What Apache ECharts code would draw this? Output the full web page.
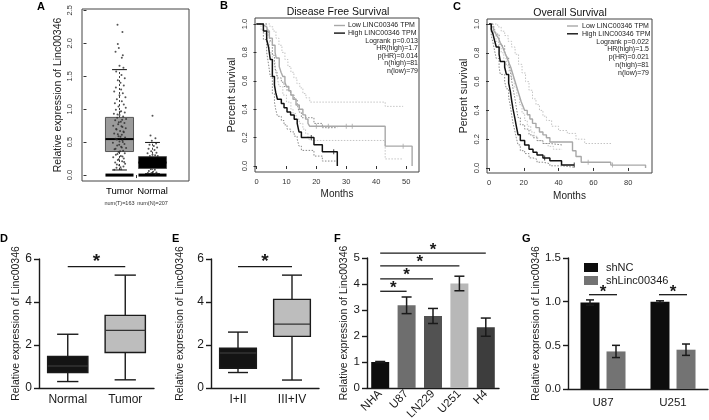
<!DOCTYPE html>
<html><head><meta charset="utf-8">
<script src="https://cdn.jsdelivr.net/npm/echarts@6/dist/echarts.min.js"></script>
<style>html,body{margin:0;padding:0;background:#fff}#c{width:709px;height:420px}</style>
</head><body><div id="c"></div>
<script>
// ================= DATA =================
// Panel A (GEPIA boxplot)
const aCategories = ['Tumor', 'Normal'];
const aCounts = ['num(T)=163', 'num(N)=207'];
const aYTicks = [0, 0.5, 1, 1.5, 2, 2.5];
// [low whisker, q1, median, q3, high whisker]
const aBoxTumor = [0.077, 0.357, 0.546, 0.875, 1.60];
const aBoxNormal = [0.02, 0.10, 0.19, 0.28, 0.495];
const aZeroLevel = 0;
// [jitter offset, value]
const aTumorPoints = [[-0.06,2.28],[0.09,2.17],[-0.05,1.99],[-0.02,1.93],[-0.12,1.87],[0.10,1.82],[0.07,1.78],[0.0,1.66],[0.12,1.63],[-0.10,1.57],[0.06,1.52],[0.16,1.47],[-0.05,1.44],[0.03,1.40],[0.13,1.36],[-0.11,1.33],[0.05,1.30],[-0.16,1.27],[0.10,1.24],[0.0,1.21],[0.18,1.18],[-0.08,1.15],[0.07,1.12],[-0.14,1.09],[0.13,1.07],[-0.03,1.04],[0.19,1.02],[-0.11,0.99],[0.05,0.97],[0.16,0.95],[-0.17,0.93],[0.0,0.91],[0.11,0.89],[-0.07,0.87],[0.20,0.85],[-0.13,0.83],[0.04,0.81],[0.15,0.79],[-0.04,0.77],[-0.19,0.75],[0.09,0.73],[0.19,0.71],[-0.09,0.69],[0.02,0.67],[0.13,0.65],[-0.16,0.63],[0.07,0.61],[-0.03,0.59],[0.17,0.57],[-0.12,0.55],[0.09,0.53],[0.0,0.51],[-0.20,0.49],[0.15,0.47],[-0.07,0.45],[0.05,0.43],[0.20,0.41],[-0.15,0.39],[0.11,0.37],[-0.03,0.35],[0.16,0.33],[-0.11,0.31],[0.04,0.29],[-0.19,0.27],[0.13,0.25],[-0.05,0.23],[0.08,0.21],[-0.13,0.19],[0.17,0.17],[-0.01,0.15],[0.12,0.13],[-0.09,0.11],[0.05,0.09],[-0.16,0.08],[0.01,0.96],[-0.06,0.92],[0.08,0.84],[-0.02,0.80],[0.06,0.74],[-0.10,0.70],[0.12,0.66],[-0.05,0.62],[0.03,0.58],[-0.08,0.54],[0.10,0.50],[-0.01,0.46],[0.07,0.42],[-0.12,0.40],[0.02,0.36],[-0.06,0.32],[0.09,0.28],[-0.02,0.24],[0.14,0.20],[-0.08,0.16],[0.03,0.12]];
const aNormalPoints = [[0.0,0.90],[-0.06,0.60],[0.09,0.56],[-0.02,0.52],[0.11,0.48],[-0.09,0.46],[0.04,0.44],[0.14,0.42],[-0.12,0.40],[0.06,0.38],[-0.04,0.36],[0.12,0.34],[-0.15,0.33],[0.0,0.31],[0.08,0.30],[-0.08,0.29],[0.16,0.29],[-0.05,0.09],[0.07,0.08],[-0.11,0.06],[0.02,0.05],[0.12,0.04],[-0.03,0.03],[0.09,0.02],[-0.14,0.03]];

// Panel B (Disease Free Survival) [months, survival]
const bXTicks = [0, 10, 20, 30, 40, 50];
const survTicks = [0, 0.2, 0.4, 0.6, 0.8, 1.0];
const bLow = [[0,1],[1.5,0.987],[2.8,0.975],[3.5,0.95],[4.3,0.90],[5.3,0.85],[6.2,0.80],[6.6,0.76],[7.6,0.70],[8.2,0.66],[8.8,0.63],[9.5,0.59],[10,0.56],[10.8,0.53],[11.5,0.50],[12.2,0.47],[13.2,0.43],[14.3,0.40],[15.5,0.36],[16.4,0.33],[17.2,0.30],[17.8,0.28],[43,0.14],[52,0]];
const bHigh = [[0,1],[2.3,0.95],[3.4,0.89],[4.0,0.84],[4.6,0.75],[5.3,0.63],[6.0,0.57],[6.4,0.52],[7.0,0.47],[8.3,0.44],[9.2,0.41],[10.2,0.38],[11.4,0.36],[12.6,0.33],[13.6,0.30],[14.2,0.24],[15.0,0.20],[19.2,0.15],[22.0,0.10],[27.0,0]];
const bLowUpper = [[0,1],[3,1.0],[4.5,0.98],[5.5,0.95],[6.5,0.90],[7.5,0.85],[8.5,0.80],[9.5,0.75],[10.5,0.70],[11.5,0.66],[12.5,0.62],[13.5,0.58],[14.5,0.55],[15.5,0.51],[16.5,0.48],[17.8,0.45],[43,0.42],[49,0.42]];
const bLowLower = [[0,1],[1.5,0.96],[2.8,0.93],[3.5,0.88],[4.3,0.80],[5.3,0.74],[6.2,0.67],[7.0,0.61],[7.6,0.56],[8.8,0.50],[10,0.45],[11.5,0.40],[12.2,0.37],[13.2,0.33],[14.3,0.30],[15.5,0.26],[16.4,0.23],[17.2,0.20],[17.8,0.18],[43,0.05],[49,0.05]];
const bHighUpper = [[0,1],[3.4,0.98],[4.0,0.95],[4.6,0.88],[5.3,0.78],[6.0,0.72],[6.4,0.67],[7.0,0.62],[8.3,0.59],[9.2,0.56],[10.2,0.53],[11.4,0.50],[12.6,0.47],[13.6,0.44],[14.2,0.38],[15.0,0.34],[19.2,0.30],[22.0,0.27],[27,0.27]];
const bHighLower = [[0,1],[2.3,0.89],[3.4,0.80],[4.0,0.72],[4.6,0.63],[5.3,0.51],[6.0,0.45],[6.4,0.40],[7.0,0.35],[8.3,0.32],[9.2,0.29],[10.2,0.26],[11.4,0.24],[12.6,0.21],[13.6,0.19],[14.2,0.14],[15.0,0.11],[19.2,0.07],[22.0,0.035],[27,0.035]];
const bLowCensor = [[20,0.28],[24,0.28],[30,0.28],[32,0.28],[49,0.14]];
const bHighCensor = [[18.3,0.20],[25.8,0.10]];
const bStats = ['Logrank p=0.013', 'HR(high)=1.7', 'p(HR)=0.014', 'n(high)=81', 'n(low)=79'];

// Panel C (Overall Survival)
const cXTicks = [0, 20, 40, 60, 80];
const cLow = [[0,1],[1.3,0.98],[2.5,0.96],[3.5,0.94],[4.5,0.92],[5.5,0.90],[6.5,0.87],[7.5,0.85],[8.5,0.82],[9.5,0.79],[10.5,0.76],[11.5,0.73],[12.5,0.70],[13.5,0.66],[14.5,0.62],[15.5,0.58],[16.5,0.54],[17.5,0.50],[18.5,0.46],[19.5,0.43],[20.5,0.40],[22,0.37],[23.5,0.34],[25,0.31],[27,0.28],[29,0.25],[31,0.23],[33,0.21],[35,0.18],[48,0.12],[50,0.08],[53,0.04],[70,0.02],[90,0]];
const cHigh = [[0,1],[1.3,0.96],[2.3,0.93],[3.3,0.88],[4.2,0.84],[5.8,0.79],[6.5,0.74],[9,0.70],[10,0.65],[11.3,0.59],[12.3,0.53],[13,0.47],[13.8,0.41],[14.8,0.35],[15.7,0.29],[16.7,0.23],[18,0.19],[20.5,0.16],[23,0.13],[25.3,0.11],[27.6,0.09],[31,0.07],[35,0.05],[41.7,0.02],[49,0.02]];
const cLowUpper = [[0,1],[3,1.0],[5,0.98],[7,0.95],[9,0.92],[11,0.88],[13,0.84],[15,0.79],[17,0.72],[19,0.66],[21,0.60],[23,0.54],[25,0.48],[27,0.44],[29,0.40],[31,0.36],[33,0.33],[36,0.29],[40,0.26],[45,0.24],[50,0.20],[55,0.17],[71,0.17]];
const cLowLower = [[0,1],[1.3,0.95],[2.5,0.92],[4,0.88],[5.5,0.84],[7,0.80],[8.5,0.76],[10,0.71],[11.5,0.67],[13,0.62],[14.5,0.56],[16,0.50],[17.5,0.44],[19,0.38],[20.5,0.33],[22,0.29],[24,0.25],[26,0.22],[28,0.19],[31,0.17],[34,0.15],[37,0.13],[42,0.13]];
const cHighUpper = [[0,1],[2.3,0.99],[3.3,0.96],[4.2,0.93],[5.8,0.89],[6.5,0.85],[9,0.81],[10,0.77],[11.3,0.72],[12.3,0.67],[13,0.61],[13.8,0.55],[14.8,0.49],[15.7,0.42],[16.7,0.35],[18,0.30],[20.5,0.27],[23,0.23],[25.3,0.21],[27.6,0.19],[31,0.17],[35,0.16],[42,0.16]];
const cHighLower = [[0,1],[1.3,0.92],[2.3,0.87],[3.3,0.81],[4.2,0.76],[5.8,0.70],[6.5,0.65],[9,0.60],[10,0.55],[11.3,0.49],[12.3,0.43],[13,0.37],[13.8,0.31],[14.8,0.26],[15.7,0.21],[16.7,0.16],[18,0.12],[20.5,0.10],[23,0.07],[25.3,0.06],[27.6,0.04],[31,0.03],[35,0.015],[42,0.005],[49,0.005]];
const cLowCensor = [[57,0.04],[71,0.02]];
const cHighCensor = [[32,0.07],[49,0.02]];
const cStats = ['Logrank p=0.022', 'HR(high)=1.5', 'p(HR)=0.021', 'n(high)=81', 'n(low)=79'];
const kmLegend = ['Low LINC00346 TPM', 'High LINC00346 TPM'];

// Panel D
const dCategories = ['Normal', 'Tumor'];
const dBoxes = [[0.30, 0.72, 1.02, 1.47, 2.50], [0.38, 1.65, 2.68, 3.38, 5.25]];
const dSig = [[0, 1, 5.65]];
// Panel E
const eCategories = ['I+II', 'III+IV'];
const eBoxes = [[0.72, 0.92, 1.63, 1.85, 2.60], [0.37, 2.40, 2.97, 4.12, 5.25]];
const eSig = [[0, 1, 5.65]];
// Panel F
const fCategories = ['NHA', 'U87', 'LN229', 'U251', 'H4'];
const fMeans = [1.0, 3.18, 2.77, 4.02, 2.34];
const fErrors = [0.02, 0.32, 0.29, 0.28, 0.35];
const fSig = [[0, 1, 3.72], [0, 2, 4.2], [0, 3, 4.7], [0, 4, 5.19]];
// Panel G
const gCategories = ['U87', 'U251'];
const gSeriesNames = ['shNC', 'shLinc00346'];
const gShNC = [0.99, 1.0];
const gShNCErr = [0.03, 0.01];
const gShLinc = [0.43, 0.45];
const gShLincErr = [0.07, 0.065];
const gSig = [[0, 0, 1.08], [1, 1, 1.08]];

// ================= STYLE / RENDER =================
const FF = "'Liberation Sans', Arial, Helvetica, sans-serif";
const INK = '#1a1a1a';
const fColors = ['#0d0d0d', '#6e6e6e', '#525252', '#b8b8b8', '#3d3d3d'];
const gColors = ['#0d0d0d', '#737373'];

function boxRender(boxFrac, capFrac, lw, medColor) {
  return function (params, api) {
    const x = api.value(0);
    const unit = api.size([1, 0])[0];
    const hw = unit * boxFrac / 2, cw = unit * capFrac / 2;
    const p = [1, 2, 3, 4, 5].map(k => api.coord([x, api.value(k)]));
    const cx = p[0][0];
    const fill = api.visual('color');
    const ls = { stroke: INK, lineWidth: lw };
    return { type: 'group', children: [
      { type: 'line', shape: { x1: cx, y1: p[0][1], x2: cx, y2: p[1][1] }, style: ls },
      { type: 'line', shape: { x1: cx, y1: p[3][1], x2: cx, y2: p[4][1] }, style: ls },
      { type: 'line', shape: { x1: cx - cw, y1: p[0][1], x2: cx + cw, y2: p[0][1] }, style: ls },
      { type: 'line', shape: { x1: cx - cw, y1: p[4][1], x2: cx + cw, y2: p[4][1] }, style: ls },
      { type: 'rect', shape: { x: cx - hw, y: p[3][1], width: hw * 2, height: p[1][1] - p[3][1] }, style: { fill: fill, stroke: INK, lineWidth: lw } },
      { type: 'line', shape: { x1: cx - hw, y1: p[2][1], x2: cx + hw, y2: p[2][1] }, style: { stroke: medColor, lineWidth: lw } }
    ]};
  };
}
function aBoxRender(params, api) {
  const x = api.value(0);
  const unit = api.size([1, 0])[0];
  const hw = unit * 0.85 / 2, cw = unit * 0.45 / 2;
  const p = [1, 2, 3, 4, 5].map(k => api.coord([x, api.value(k)]));
  const cx = p[0][0];
  const fill = api.visual('color');
  const ls = { stroke: '#111', lineWidth: 1 };
  return { type: 'group', children: [
    { type: 'line', shape: { x1: cx, y1: p[0][1], x2: cx, y2: p[4][1] }, style: { stroke: '#111', lineWidth: 0.8, lineDash: [2, 2] } },
    { type: 'line', shape: { x1: cx - cw, y1: p[0][1], x2: cx + cw, y2: p[0][1] }, style: ls },
    { type: 'line', shape: { x1: cx - cw, y1: p[4][1], x2: cx + cw, y2: p[4][1] }, style: ls },
    { type: 'rect', shape: { x: cx - hw, y: p[3][1], width: hw * 2, height: p[1][1] - p[3][1] }, style: { fill: fill, stroke: '#555', lineWidth: 1 } },
    { type: 'line', shape: { x1: cx - hw, y1: p[2][1], x2: cx + hw, y2: p[2][1] }, style: { stroke: '#000', lineWidth: 2 } }
  ]};
}
function zeroRender(params, api) {
  const x = api.value(0);
  const unit = api.size([1, 0])[0];
  const hw = unit * 0.85 / 2;
  const p = api.coord([x, api.value(1)]);
  return { type: 'rect', shape: { x: p[0] - hw, y: p[1] - 1.5, width: hw * 2, height: 3 }, style: { fill: '#000' } };
}
function errRender(offsetPx, capPx) {
  return function (params, api) {
    const i = api.value(0), m = api.value(1), e = api.value(2);
    const top = api.coord([i, m + e]), bot = api.coord([i, m - e]);
    const x = top[0] + offsetPx;
    const ls = { stroke: INK, lineWidth: 1.5 };
    return { type: 'group', children: [
      { type: 'line', shape: { x1: x, y1: top[1], x2: x, y2: bot[1] }, style: ls },
      { type: 'line', shape: { x1: x - capPx / 2, y1: top[1], x2: x + capPx / 2, y2: top[1] }, style: ls },
      { type: 'line', shape: { x1: x - capPx / 2, y1: bot[1], x2: x + capPx / 2, y2: bot[1] }, style: ls }
    ]};
  };
}
function sigRender(offA, offB, starGap, starSize) {
  return function (params, api) {
    const a = api.coord([api.value(0), api.value(2)]);
    const b = api.coord([api.value(1), api.value(2)]);
    const x1 = a[0] + offA, x2 = b[0] + offB;
    return { type: 'group', children: [
      { type: 'line', shape: { x1: x1, y1: a[1], x2: x2, y2: a[1] }, style: { stroke: INK, lineWidth: 1.3 } },
      { type: 'text', x: (x1 + x2) / 2, y: a[1] - starGap, style: { text: '*', font: 'bold ' + starSize + 'px ' + FF, fill: INK, align: 'center', verticalAlign: 'middle' } }
    ]};
  };
}

// axes helpers
function rY(gi, min, max, ticks, name, nameGap, margin) {
  return { type: 'value', gridIndex: gi, min, max,
    axisLine: { show: false },
    axisTick: { show: true, length: 3, customValues: ticks, lineStyle: { color: '#333', width: 1 } },
    axisLabel: { customValues: ticks, rotate: 90, fontSize: 7.5, color: '#333', margin, fontFamily: FF, formatter: v => v.toFixed(1) },
    splitLine: { show: false },
    name, nameLocation: 'middle', nameGap, nameTextStyle: { fontSize: 10.5, color: '#222', fontFamily: FF } };
}
function rX(gi, min, max, ticks, name, nameGap) {
  return { type: 'value', gridIndex: gi, min, max,
    axisLine: { show: false },
    axisTick: { show: true, length: 3, customValues: ticks, lineStyle: { color: '#333', width: 1 } },
    axisLabel: { customValues: ticks, fontSize: 7.5, color: '#333', margin: 6, fontFamily: FF },
    splitLine: { show: false },
    name, nameLocation: 'middle', nameGap, nameTextStyle: { fontSize: 10, color: '#222', fontFamily: FF } };
}
function gpY(gi, max, interval, name, nameGap, fs, fmt) {
  return { type: 'value', gridIndex: gi, min: 0, max, interval,
    axisLine: { show: true, lineStyle: { color: INK, width: 1.4 } },
    axisTick: { show: true, length: 5, lineStyle: { color: INK, width: 1.4 } },
    axisLabel: { fontSize: fs, color: INK, margin: 7, fontFamily: FF, formatter: fmt },
    splitLine: { show: false },
    name, nameLocation: 'middle', nameGap, nameTextStyle: { fontSize: 10.5, color: INK, fontFamily: FF } };
}
function gpX(gi, data, fs, rotate, margin) {
  return { type: 'category', gridIndex: gi, data,
    axisLine: { show: true, onZero: false, lineStyle: { color: INK, width: 1.4 } },
    axisTick: { show: false },
    axisLabel: { fontSize: fs, color: INK, rotate, margin, interval: 0, fontFamily: FF },
    splitLine: { show: false } };
}
function kmLine(idx, data, color, width, dotted) {
  return { type: 'line', xAxisIndex: idx, yAxisIndex: idx, data, step: 'end', symbol: 'none', silent: true,
    lineStyle: { color, width, type: dotted ? [1.5, 1.5] : 'solid' }, z: dotted ? 2 : 3 };
}
function kmCensor(idx, data, color) {
  return { type: 'scatter', xAxisIndex: idx, yAxisIndex: idx, data, symbol: 'rect', symbolSize: [1, 5], itemStyle: { color }, silent: true, z: 4 };
}
function kmLegendGraphic(lineX, textX, y0, dy) {
  const els = [];
  const colors = ['#a8a8a8', '#111'];
  kmLegend.forEach((t, i) => {
    const y = y0 + i * dy;
    els.push({ type: 'line', shape: { x1: lineX, y1: y, x2: lineX + 11, y2: y }, style: { stroke: colors[i], lineWidth: 1.4 } });
    els.push({ type: 'text', x: textX, y: y, style: { text: t, font: '7px ' + FF, fill: '#222', align: 'left', verticalAlign: 'middle' } });
  });
  return els;
}
function kmStatsGraphic(stats, statX, y0, dy) {
  return stats.map((t, i) => ({ type: 'text', x: statX, y: y0 + (i + 2) * dy, style: { text: t, font: '7px ' + FF, fill: '#222', align: 'right', verticalAlign: 'middle' } }));
}
function label(t, x, y, size) {
  return { type: 'text', x, y, style: { text: t, font: 'bold ' + size + 'px ' + FF, fill: '#000', align: 'left', verticalAlign: 'middle' } };
}

const option = {
  animation: false,
  backgroundColor: '#fff',
  textStyle: { fontFamily: FF },
  grid: [
    { left: 82, top: 9, width: 107, height: 172, show: true, borderColor: '#444', borderWidth: 1, backgroundColor: 'transparent', outerBoundsMode: 'none' },
    { left: 255, top: 18, width: 164, height: 154, show: true, borderColor: '#444', borderWidth: 1, backgroundColor: 'transparent', outerBoundsMode: 'none' },
    { left: 487, top: 19, width: 165, height: 154, show: true, borderColor: '#444', borderWidth: 1, backgroundColor: 'transparent', outerBoundsMode: 'none' },
    { left: 39, top: 259, width: 115, height: 129, outerBoundsMode: 'none' },
    { left: 211, top: 259, width: 108, height: 129, outerBoundsMode: 'none' },
    { left: 367, top: 258, width: 132, height: 130, outerBoundsMode: 'none' },
    { left: 568, top: 258, width: 140, height: 131, outerBoundsMode: 'none' }
  ],
  xAxis: [
    { type: 'value', gridIndex: 0, min: -0.136, max: 3.106,
      axisLine: { show: false },
      axisTick: { show: true, length: 3, customValues: [1.5], lineStyle: { color: '#333' } },
      axisLabel: { customValues: [1, 2], margin: 4, fontFamily: FF,
        formatter: v => '{a|' + aCategories[Math.round(v) - 1] + '}\n{b|' + aCounts[Math.round(v) - 1] + '}',
        rich: { a: { fontSize: 9.5, color: '#000', lineHeight: 13, fontFamily: FF }, b: { fontSize: 5.5, color: '#333', lineHeight: 10, fontFamily: FF } } },
      splitLine: { show: false } },
    rX(1, -0.5, 54.3, bXTicks, 'Months', 17),
    rX(2, -1.15, 93.7, cXTicks, 'Months', 18),
    gpX(3, dCategories, 12, 0, 6),
    gpX(4, eCategories, 12, 0, 6),
    gpX(5, fCategories, 11.5, 45, 4),
    gpX(6, gCategories, 11.5, 0, 8)
  ],
  yAxis: [
    rY(0, -0.09, 2.52, aYTicks, 'Relative expression of Linc00346', 18, 8),
    rY(1, -0.042, 1.042, survTicks, 'Percent survival', 17, 6),
    rY(2, -0.035, 1.035, survTicks, 'Percent survival', 17, 6),
    gpY(3, 6, 2, 'Relative expression of Linc00346', 16, 12),
    gpY(4, 6, 2, 'Relative expression of Linc00346', 25, 12),
    gpY(5, 5, 1, 'Relative expression of Linc00346', 16, 11.5),
    gpY(6, 1.5, 0.5, 'Relative expression of Linc00346', 26, 11.5, v => v.toFixed(1))
  ],
  legend: {
    show: true, orient: 'vertical', left: 579, top: 257, itemWidth: 14, itemHeight: 9, itemGap: 2, icon: 'rect',
    selectedMode: false, data: gSeriesNames,
    textStyle: { fontSize: 11, color: INK, fontFamily: FF, padding: [0, 0, 0, 3] }
  },
  series: [
    // ---- A ----
    { type: 'custom', xAxisIndex: 0, yAxisIndex: 0, renderItem: aBoxRender, silent: true, z: 2,
      data: [{ value: [1].concat(aBoxTumor), itemStyle: { color: '#9b9b9b' } }, { value: [2].concat(aBoxNormal), itemStyle: { color: '#000' } }] },
    { type: 'custom', xAxisIndex: 0, yAxisIndex: 0, renderItem: zeroRender, silent: true, z: 3,
      data: [[1, aZeroLevel], [2, aZeroLevel]] },
    { type: 'scatter', xAxisIndex: 0, yAxisIndex: 0, symbolSize: 2, silent: true, z: 4,
      itemStyle: { color: '#2a2a2a' },
      data: aTumorPoints.map(p => [1 + p[0], p[1]]).concat(aNormalPoints.map(p => [2 + p[0], p[1]])) },
    // ---- B ----
    kmLine(1, bLowUpper, '#c4c4c4', 1, true),
    kmLine(1, bLowLower, '#c4c4c4', 1, true),
    kmLine(1, bHighUpper, '#888', 1, true),
    kmLine(1, bHighLower, '#888', 1, true),
    kmLine(1, bLow, '#a8a8a8', 1.4, false),
    kmLine(1, bHigh, '#111', 1.5, false),
    kmCensor(1, bLowCensor, '#a8a8a8'),
    kmCensor(1, bHighCensor, '#111'),
    // ---- C ----
    kmLine(2, cLowUpper, '#c4c4c4', 1, true),
    kmLine(2, cLowLower, '#c4c4c4', 1, true),
    kmLine(2, cHighUpper, '#888', 1, true),
    kmLine(2, cHighLower, '#888', 1, true),
    kmLine(2, cLow, '#a8a8a8', 1.4, false),
    kmLine(2, cHigh, '#111', 1.5, false),
    kmCensor(2, cLowCensor, '#a8a8a8'),
    kmCensor(2, cHighCensor, '#111'),
    // ---- D ----
    { type: 'custom', xAxisIndex: 3, yAxisIndex: 3, renderItem: boxRender(0.70, 0.37, 1.4, '#333'), silent: true,
      data: dBoxes.map((b, i) => ({ value: [i].concat(b), itemStyle: { color: i === 0 ? '#141414' : '#bdbdbd' } })) },
    { type: 'custom', xAxisIndex: 3, yAxisIndex: 3, renderItem: sigRender(0, 0, 5, 19), silent: true, clip: false, data: dSig },
    // ---- E ----
    { type: 'custom', xAxisIndex: 4, yAxisIndex: 4, renderItem: boxRender(0.68, 0.37, 1.4, '#333'), silent: true,
      data: eBoxes.map((b, i) => ({ value: [i].concat(b), itemStyle: { color: i === 0 ? '#141414' : '#bdbdbd' } })) },
    { type: 'custom', xAxisIndex: 4, yAxisIndex: 4, renderItem: sigRender(0, 0, 5, 19), silent: true, clip: false, data: eSig },
    // ---- F ----
    { type: 'bar', xAxisIndex: 5, yAxisIndex: 5, barWidth: 18, silent: true,
      data: fMeans.map((v, i) => ({ value: v, itemStyle: { color: fColors[i] } })) },
    { type: 'custom', xAxisIndex: 5, yAxisIndex: 5, renderItem: errRender(0, 10), silent: true, z: 3,
      data: fMeans.map((m, i) => [i, m, fErrors[i]]) },
    { type: 'custom', xAxisIndex: 5, yAxisIndex: 5, renderItem: sigRender(0, 0, 3, 17), silent: true, clip: false, z: 3, data: fSig },
    // ---- G ----
    { type: 'bar', name: gSeriesNames[0], xAxisIndex: 6, yAxisIndex: 6, barWidth: 19, barGap: '37%', silent: true,
      itemStyle: { color: gColors[0] }, data: gShNC },
    { type: 'bar', name: gSeriesNames[1], xAxisIndex: 6, yAxisIndex: 6, barWidth: 19, barGap: '37%', silent: true,
      itemStyle: { color: gColors[1] }, data: gShLinc },
    { type: 'custom', xAxisIndex: 6, yAxisIndex: 6, renderItem: errRender(-13, 8), silent: true, z: 3,
      data: gShNC.map((m, i) => [i, m, gShNCErr[i]]) },
    { type: 'custom', xAxisIndex: 6, yAxisIndex: 6, renderItem: errRender(13, 8), silent: true, z: 3,
      data: gShLinc.map((m, i) => [i, m, gShLincErr[i]]) },
    { type: 'custom', xAxisIndex: 6, yAxisIndex: 6, renderItem: sigRender(-14, 14, 2.5, 17), silent: true, clip: false, z: 3, data: gSig }
  ],
  graphic: [
    label('A', 37, 7, 11), label('B', 220, 6, 11), label('C', 453, 7, 11),
    label('D', 0, 239, 11), label('E', 172, 239, 11), label('F', 334, 239, 11), label('G', 522, 239, 11),
    { type: 'text', x: 338, y: 12, style: { text: 'Disease Free Survival', font: '10.5px ' + FF, fill: '#111', align: 'center', verticalAlign: 'middle' } },
    { type: 'text', x: 570, y: 13, style: { text: 'Overall Survival', font: '10.5px ' + FF, fill: '#111', align: 'center', verticalAlign: 'middle' } }
  ].concat(kmLegendGraphic(334, 348, 25.5, 7.6))
   .concat(kmStatsGraphic(bStats, 418, 25.5, 7.6))
   .concat(kmLegendGraphic(567, 582, 26, 7.8))
   .concat(kmStatsGraphic(cStats, 649, 26, 7.8))
};

const chart = echarts.init(document.getElementById('c'), null, { renderer: 'canvas', width: 709, height: 420 });
chart.setOption(option);
</script>
</body></html>
